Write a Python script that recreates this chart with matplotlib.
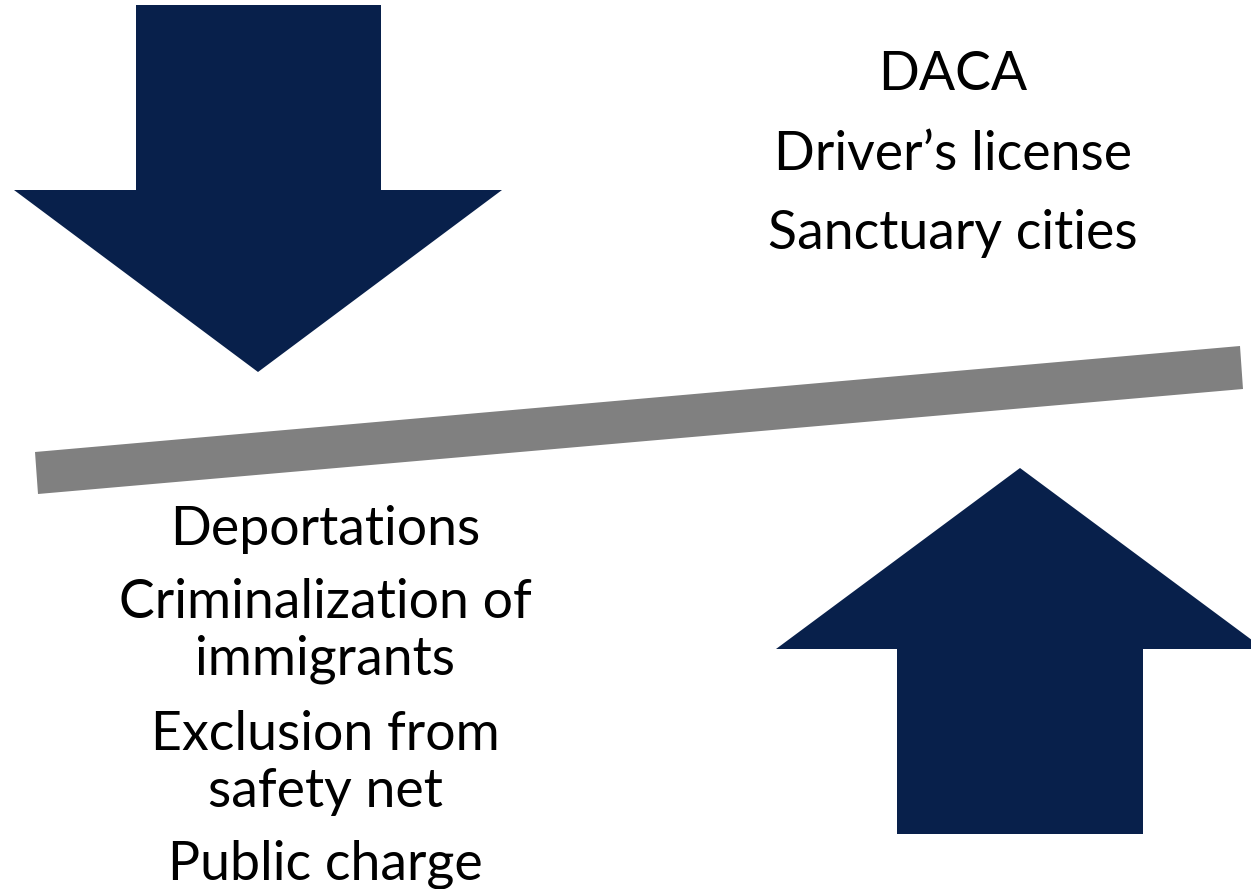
import matplotlib.pyplot as plt
from matplotlib.patches import Polygon

# text blocks
top_labels = ['DACA', 'Driver\u2019s license', 'Sanctuary cities']
top_y = [74, 154, 234]
bottom_labels = ['Deportations', 'Criminalization of', 'immigrants',
                 'Exclusion from', 'safety net', 'Public charge']
bottom_y = [529, 602, 659, 734, 792, 864]

navy = '#08204b'
grey = '#808080'

fig = plt.figure(figsize=(12.51, 8.89), dpi=100)
ax = fig.add_axes([0, 0, 1, 1])
ax.set_xlim(0, 1251)
ax.set_ylim(889, 0)
ax.axis('off')

# down arrow (top left)
down = [(136, 5), (381, 5), (381, 190), (502, 190), (258, 372),
        (14, 190), (136, 190)]
ax.add_patch(Polygon(down, closed=True, color=navy, lw=0))

# up arrow (bottom right)
up = [(897, 834), (1143, 834), (1143, 649), (1264, 649), (1020, 468),
      (776, 649), (897, 649)]
ax.add_patch(Polygon(up, closed=True, color=navy, lw=0))

# tilted grey bar
bar = [(35, 452), (1240, 346), (1243, 389), (38, 494)]
ax.add_patch(Polygon(bar, closed=True, color=grey, lw=0))

for s, y in zip(top_labels, top_y):
    ax.text(953, y, s, ha='center', va='center', fontsize=38.6,
            family=['Lato', 'DejaVu Sans'], color='black')
for s, y in zip(bottom_labels, bottom_y):
    ax.text(325, y, s, ha='center', va='center', fontsize=38.6,
            family=['Lato', 'DejaVu Sans'], color='black')

plt.savefig('out.png', dpi=100)
